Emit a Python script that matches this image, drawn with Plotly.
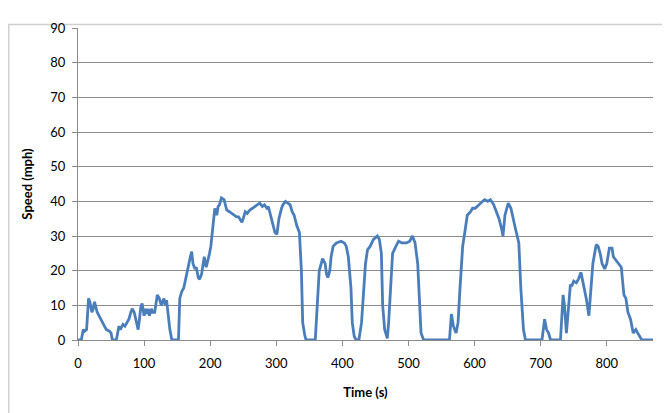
import plotly.graph_objects as go

time_s = [0, 5, 8, 10, 13, 16, 18, 21, 23, 25, 29, 34, 37, 40, 43, 48, 50, 52, 58,
          62, 64, 68, 71, 74, 77, 80, 82, 85, 89, 91, 93, 95, 97, 100, 102, 104, 106,
          108, 111, 113, 116, 120, 123, 126, 130, 132, 134, 136, 139, 142, 152,
          154, 157, 160, 162, 164, 167, 170, 172, 174, 177, 179, 182, 184, 187, 191,
          194, 197, 199, 201, 205, 207, 210, 212, 214, 217, 221, 223, 225, 229, 233,
          236, 240, 243, 248, 250, 253, 256, 260, 264, 267, 271, 275, 279, 282, 286,
          288, 291, 295, 298, 301, 304, 308, 310, 314, 317, 321, 324, 327, 331, 335,
          338, 340, 343, 345, 359, 362, 365, 368, 370, 374, 376, 378, 381, 383, 386,
          391, 398, 403, 406, 409, 413, 415, 418, 421, 425, 429, 432, 435, 438, 442,
          447, 453, 456, 459, 461, 464, 468, 470, 473, 476, 481, 485, 490, 497, 502,
          506, 510, 514, 517, 519, 523, 562, 565, 568, 572, 575, 578, 582, 586, 589,
          594, 597, 601, 606, 611, 615, 620, 624, 629, 633, 637, 641, 643, 646, 651,
          655, 658, 662, 667, 670, 674, 677, 702, 706, 709, 712, 715, 730, 734, 736,
          739, 742, 745, 747, 750, 754, 757, 761, 765, 769, 773, 776, 779, 784, 787,
          790, 793, 797, 800, 804, 808, 810, 814, 818, 822, 826, 829, 832, 836, 840,
          844, 847, 850, 853, 870]

speed_mph = [0, 0, 3, 2.5, 3, 12, 11, 8, 9, 11, 8, 6, 5, 4, 3, 2.5, 2, 0, 0,
             4, 3, 4.5, 4, 5, 6, 8, 9, 8, 5, 3, 6, 9.5, 10.5, 7, 9, 7.5, 9,
             7, 9, 8, 8, 13, 12, 10, 12, 10, 11.5, 8, 3, 0, 0,
             12, 14, 15, 17, 18, 21, 24, 25.5, 22, 20.5, 21, 18, 17.5, 19, 24,
             21, 23, 25, 27, 34, 38, 36, 38.5, 39, 41, 40.5, 39, 37.5, 37, 36.5,
             36, 35.5, 35.5, 34, 35, 37, 36.5, 37.5, 38, 38.5, 39, 39.5, 38.5, 39, 38,
             38.5, 36, 33, 31, 30.5, 35, 38, 39, 40, 39.5, 39, 37, 36, 33, 31,
             20, 5, 1.5, 0, 0, 10, 20, 22, 23.5, 22, 19, 18, 20, 24, 27,
             28, 28.5, 28, 27, 24, 15, 5, 1, 0, 0, 5, 15, 22, 26, 27,
             29, 30, 29, 25, 10, 3, 0.5, 5, 15, 25, 27, 28.5, 28, 28, 28.5,
             30, 28, 22, 10, 2, 0, 0, 7.5, 4, 2, 5, 15, 27, 32, 36,
             37, 38, 38, 39, 40, 40.5, 40, 40.5, 39, 37, 35, 32, 30, 36, 39.5,
             38, 35, 32, 28, 15, 3, 0, 0, 6, 3, 2, 0, 0, 13, 10,
             2, 10, 16, 15.5, 17, 16.5, 17.5, 19.5, 16, 12, 7, 15, 22, 27.5, 27,
             25, 22, 20.5, 22, 26.5, 26.5, 24, 23, 22, 21, 13, 12, 8, 6, 2,
             3, 2, 1, 0, 0]

x_ticks = [0, 100, 200, 300, 400, 500, 600, 700, 800]
y_ticks = [0, 10, 20, 30, 40, 50, 60, 70, 80, 90]

FONT = "Lato, 'Open Sans', sans-serif"
GRID = "#8c8c8c"

fig = go.Figure()
fig.add_trace(go.Scatter(
    x=time_s, y=speed_mph, mode="lines",
    line=dict(color="#4a7ebb", width=2.8),
    hoverinfo="x+y", showlegend=False,
))

# the page body has an 8px margin, so the figure is 662x405 and margins are offset
fig.update_layout(
    width=662, height=405,
    margin=dict(l=70, r=17, t=16, b=73),
    paper_bgcolor="white", plot_bgcolor="white",
    font=dict(family=FONT, size=13, color="#000000"),
    xaxis=dict(
        range=[0, 870], tickvals=x_ticks, ticktext=[str(v) for v in x_ticks],
        showgrid=False, zeroline=False, showline=True, linecolor=GRID, linewidth=1,
        ticks="outside", ticklen=5, tickcolor=GRID, tickwidth=1,
        ticklabelstandoff=6,
        title=dict(text="<b>Time (s)</b>", font=dict(size=13), standoff=18),
        tickfont=dict(size=13),
    ),
    yaxis=dict(
        range=[0, 90], tickvals=y_ticks, ticktext=[str(v) for v in y_ticks],
        showgrid=True, gridcolor=GRID, gridwidth=1,
        zeroline=False, showline=True, linecolor=GRID, linewidth=1,
        ticks="outside", ticklen=5, tickcolor=GRID, tickwidth=1,
        ticklabelstandoff=4,
        title=dict(text="<b>Speed (mph)</b>", font=dict(size=13), standoff=14),
        tickfont=dict(size=13),
    ),
    shapes=[dict(
        type="rect", xref="paper", yref="paper",
        x0=-0.1203, x1=1.08, y0=-0.4, y1=1.011,
        line=dict(color="#d0d0d0", width=1.5), fillcolor="rgba(0,0,0,0)",
        layer="below",
    )],
)

fig.write_html("out.html")
